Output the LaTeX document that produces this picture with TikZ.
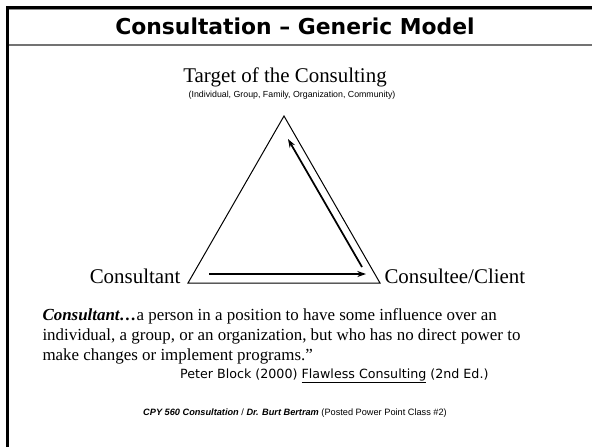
\documentclass[tikz,border=0pt]{standalone}
\usepackage{fontspec}
\setmainfont{Liberation Serif}
\newfontfamily\arialfont{Liberation Sans}
\newfontfamily\comicfont{DejaVu Sans}
\usetikzlibrary{arrows.meta}

\tikzset{every picture/.style={line width=0.75pt}}
\tikzset{
  flowarrow/.style={line width=1.3pt,-{Stealth[length=6.5pt,width=4.5pt]}},
  labeltext/.style={inner sep=0.75pt,font=\fontsize{15.7}{18}\selectfont},
}

\begin{document}
\begin{tikzpicture}[x=0.75pt,y=0.75pt,yscale=-1,xscale=1]
		\useasboundingbox (0,0) rectangle (592,447);

		%Shape: Frame
		\draw [color=black!45,line width=1pt] (9,9.8) -- (592,9.8) ;
		\draw [color=black!55,line width=1.5pt] (9,44.5) -- (592,44.5) ;
		\draw [line width=2.2pt] (7.5,447) -- (7.5,7.5) -- (592,7.5) ;

		% Title
		\draw (295,26) node [inner sep=0.75pt] (title) {\comicfont\bfseries\fontsize{16.4}{19}\selectfont Consultation – Generic Model};

		% Text Node
		\draw (285,77) node [labeltext] (target) {Target of the Consulting};
		% Text Node
		\draw (292,95.5) node [inner sep=0.75pt,font=\arialfont\fontsize{6.6}{8}\selectfont] (targetsub) {(Individual, Group, Family, Organization, Community)};

		%Shape: Triangle
		\coordinate (apex) at (284,116) ;
		\coordinate (lcorner) at (188,283) ;
		\coordinate (rcorner) at (380,283) ;
		\draw (lcorner) -- (apex) -- (rcorner) -- cycle ;

		% Text Node
		\draw (lcorner) ++(-6,0) node [labeltext,anchor=base east] (consultant) {Consultant};
		% Text Node
		\draw (rcorner) ++(3,0) node [labeltext,anchor=base west] (client) {Consultee/Client};

		%Arrows
		\coordinate (h1) at (209,274) ;
		\coordinate (h2) at (366,274) ;
		\coordinate (s1) at (362,267) ;
		\coordinate (s2) at (288,139) ;
		\draw [flowarrow] (h1) -- (h2) ;
		\draw [flowarrow] (s1) -- (s2) ;

		% Text Node
		\draw (41,307) node [anchor=north west,inner sep=0.75pt,align=left,font=\fontsize{12.7}{15}\selectfont] (definition) {\textbf{\textit{Consultant\ldots}}a person in a position to have some influence over an\\individual, a group, or an organization, but who has no direct power to\\make changes or implement programs.”};
		% Text Node
		\draw (490,376) node [anchor=east,inner sep=0.75pt,font=\comicfont\fontsize{9.5}{11}\selectfont] (source) {Peter Block (2000) \underline{Flawless Consulting} (2nd Ed.)};

		% Text Node
		\draw (295,413) node [inner sep=0.75pt,font=\arialfont\fontsize{6.9}{8}\selectfont] (footer) {\textbf{\textit{CPY 560 Consultation}} / \textbf{\textit{Dr. Burt Bertram}} (Posted Power Point Class \#2)};

\end{tikzpicture}
\end{document}
